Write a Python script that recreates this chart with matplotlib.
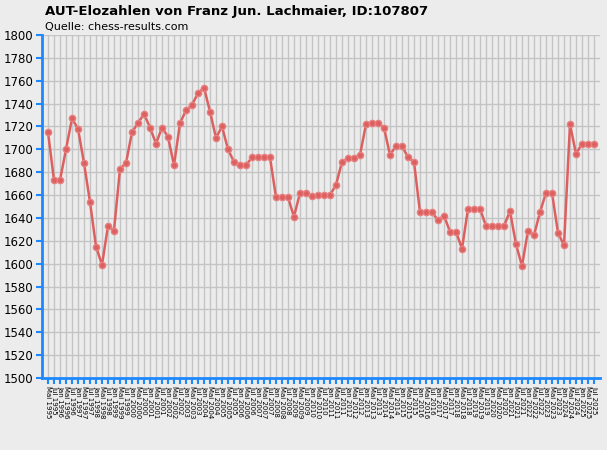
import matplotlib
matplotlib.use("Agg")
import matplotlib.pyplot as plt

elo = [1715,1673,1673,1700,1727,1718,1688,1654,1615,1599,
       1633,1629,1683,1688,1715,1723,1731,1719,1705,1719,
       1711,1686,1723,1734,1739,1749,1754,1733,1710,1720,
       1700,1689,1686,1686,1693,1693,1693,1693,1658,1658,
       1658,1641,1662,1662,1659,1660,1660,1660,1669,1689,
       1692,1692,1695,1722,1723,1723,1719,1695,1703,1703,
       1693,1689,1645,1645,1645,1638,1642,1628,1628,1613,
       1648,1648,1648,1633,1633,1633,1633,1646,1617,1598,
       1629,1625,1645,1662,1662,1627,1616,1722,1696,1705,
       1705,1705]
labels = []
y, m = 2025, 2
for i in range(len(elo)):
    labels.append(["Jan", "Mai", "Jul"][m] + " " + str(y))
    m -= 1
    if m < 0:
        m = 2; y -= 1
labels = labels[::-1]
yticks = list(range(1500, 1801, 20))

fig = plt.figure(figsize=(6.07, 4.5), dpi=100)
fig.patch.set_facecolor("#ECECEC")
ax = fig.add_axes([42/607, 72/450, 558/607, 343/450])
ax.set_facecolor("#ECECEC")
x = list(range(len(elo)))
ax.plot(x, elo, color="#DD6060", lw=1.8, marker="o", ms=4.5, mfc="#DD6060", mec="#E88080", zorder=3)
ax.set_xlim(-1, len(elo))
ax.set_ylim(1500, 1800)
ax.set_yticks(yticks)
ax.set_yticklabels([str(v) for v in yticks], fontsize=8.5)
ax.set_xticks(x)
ax.set_xticklabels(labels, rotation=-90, fontsize=5)
ax.grid(True, color="#C4C4C4", lw=1)
ax.set_axisbelow(True)
for s in ["top", "right"]:
    ax.spines[s].set_visible(False)
ax.spines["left"].set_color("#1E88FF"); ax.spines["left"].set_linewidth(2)
ax.spines["bottom"].set_color("#1E88FF"); ax.spines["bottom"].set_linewidth(2)
ax.tick_params(axis="both", colors="#1E88FF", labelcolor="black", length=4, width=1.5, pad=2)
fig.text(45/607, 1-12/450, "AUT-Elozahlen von Franz Jun. Lachmaier, ID:107807", fontsize=9.5, fontweight="bold", va="center")
fig.text(45/607, 1-27/450, "Quelle: chess-results.com", fontsize=8, va="center")
fig.savefig("out.png", dpi=100, facecolor=fig.get_facecolor())
